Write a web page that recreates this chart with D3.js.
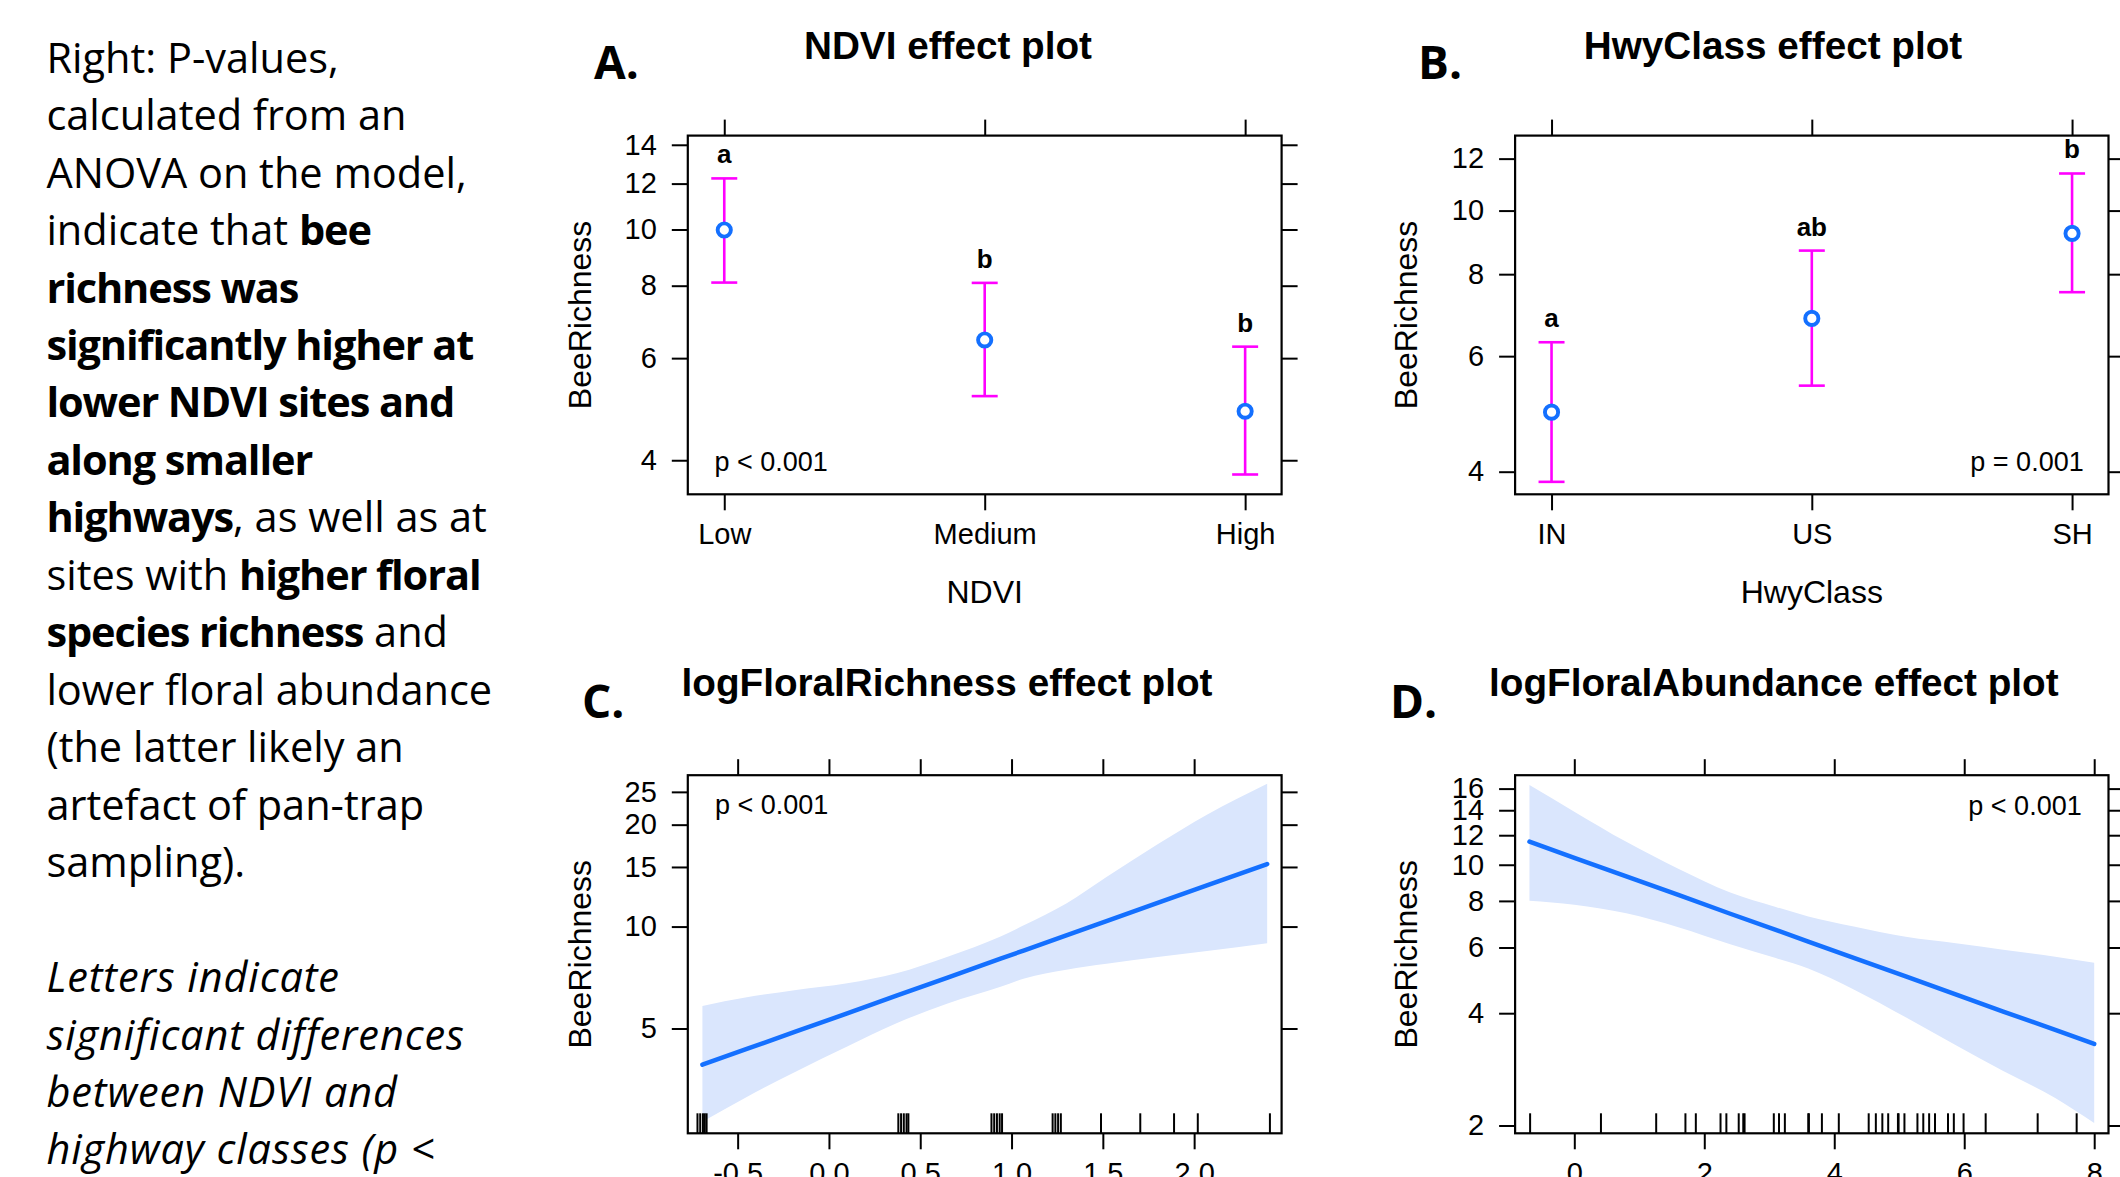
<!DOCTYPE html>
<html>
<head>
<meta charset="utf-8">
<script src="https://cdn.jsdelivr.net/npm/d3@7"></script>
<style>
  html, body { margin: 0; padding: 0; background: #fff; }
  svg { display: block; }
</style>
</head>
<body>
<svg id="fig" width="2120" height="1177"></svg>
<script>
// ---------- NDVI effect (categorical) ----------
const ndviCats    = ["Low", "Medium", "High"];
const ndviFit     = [9.98, 6.45, 4.86];
const ndviLower   = [8.10, 5.16, 3.78];
const ndviUpper   = [12.25, 8.09, 6.28];
const ndviLetters = ["a", "b", "b"];
const ndviYTicks  = [4, 6, 8, 10, 12, 14];

// ---------- Highway class effect (categorical) ----------
const hwyCats    = ["IN", "US", "SH"];
const hwyFit     = [4.93, 6.85, 9.23];
const hwyLower   = [3.86, 5.41, 7.51];
const hwyUpper   = [6.30, 8.69, 11.39];
const hwyLetters = ["a", "ab", "b"];
const hwyYTicks  = [4, 6, 8, 10, 12];

// ---------- log floral richness effect (continuous) ----------
const richX     = [-0.693, -0.45, -0.18, 0.10, 0.37, 0.65, 0.94, 1.07, 1.30, 1.52, 1.80, 2.07, 2.40];
const richFit   = [3.91, 4.35, 4.90, 5.54, 6.25, 7.07, 8.04, 8.51, 9.42, 10.38, 11.74, 13.23, 15.30];
const richLower = [2.65, 3.14, 3.73, 4.42, 5.18, 5.93, 6.64, 7.03, 7.46, 7.76, 8.13, 8.47, 8.93];
const richUpper = [5.83, 6.18, 6.50, 6.80, 7.28, 8.15, 9.34, 10.1, 11.7, 14.0, 17.5, 21.4, 26.4];
const richRug   = [-0.72, -0.705, -0.69, -0.68, -0.67,
                   0.38, 0.395, 0.41, 0.425, 0.435,
                   0.89, 0.905, 0.92, 0.935, 0.948,
                   1.225, 1.24, 1.255, 1.27,
                   1.49, 1.705, 1.89, 2.02, 2.415];
const richYTicks = [5, 10, 15, 20, 25];
const richXTicks = [-0.5, 0, 0.5, 1, 1.5, 2];

// ---------- log floral abundance effect (continuous) ----------
const abX     = [-0.69, 0.0, 0.8, 1.6, 2.4, 3.1, 3.6, 4.3, 5.1, 5.9, 6.6, 7.4, 8.0];
const abFit   = [11.53, 10.44, 9.31, 8.30, 7.39, 6.69, 6.22, 5.63, 5.02, 4.47, 4.04, 3.61, 3.31];
const abLower = [8.01, 7.81, 7.41, 6.80, 6.12, 5.62, 5.27, 4.63, 3.90, 3.26, 2.80, 2.37, 2.03];
const abUpper = [16.36, 13.88, 11.52, 9.76, 8.43, 7.71, 7.27, 6.83, 6.41, 6.15, 5.92, 5.67, 5.46];
const abRug   = [-0.68, 0.41, 1.26, 1.71, 1.87, 2.25, 2.34, 2.53, 2.60, 2.62, 3.07, 3.15, 3.24,
                 3.60, 3.61, 3.81, 4.07, 4.53, 4.64, 4.74, 4.83, 4.98, 4.99, 5.08, 5.28, 5.37,
                 5.46, 5.55, 5.75, 5.84, 5.99, 6.33, 7.13, 7.73];
const abYTicks = [2, 4, 6, 8, 10, 12, 14, 16];
const abXTicks = [0, 2, 4, 6, 8];

// ---------- side note ----------
const noteLines = [
  [["Right: P-values,", "n"]],
  [["calculated from an", "n"]],
  [["ANOVA on the model,", "n"]],
  [["indicate that ", "n"], ["bee", "b"]],
  [["richness was", "b"]],
  [["significantly higher at", "b"]],
  [["lower NDVI sites and", "b"]],
  [["along smaller", "b"]],
  [["highways", "b"], [", as well as at", "n"]],
  [["sites with ", "n"], ["higher floral", "b"]],
  [["species richness", "b"], [" and", "n"]],
  [["lower floral abundance", "n"]],
  [["(the latter likely an", "n"]],
  [["artefact of pan-trap", "n"]],
  [["sampling).", "n"]],
  [],
  [["Letters indicate", "i"]],
  [["significant differences", "i"]],
  [["between NDVI and", "i"]],
  [["highway classes (p <", "i"]]
];

// ---------- drawing ----------
const svg = d3.select("#fig");
svg.append("rect").attr("width", 2120).attr("height", 1177).attr("fill", "#fff");

const PLOT_FONT = "'Liberation Sans', Arial, Helvetica, sans-serif";
const NOTE_FONT = "'Open Sans', 'Noto Sans', sans-serif";
const FIT_BLUE = "#1470ff";
const BAND_BLUE = "#dae6fd";
const BAR_MAGENTA = "#ff00ff";

// note text, one tspan per styled run
const note = svg.append("text")
  .attr("font-family", NOTE_FONT)
  .attr("font-size", 41.5)
  .attr("fill", "#000");
noteLines.forEach((segs, i) => {
  const baseY = 72.7 + i * 57.46;
  segs.forEach((s, j) => {
    const t = note.append("tspan").text(s[0])
      .attr("font-weight", s[1] === "b" ? 700 : 400)
      .attr("font-style", s[1] === "i" ? "italic" : "normal")
      .attr("letter-spacing", s[1] === "b" ? -1.1 : (s[1] === "i" ? 0.9 : 0))
      .style("white-space", "pre");
    if (j === 0) t.attr("x", 46.4).attr("y", baseY);
  });
});

function styleAxis(g, fontSize) {
  g.select(".domain").remove();
  g.selectAll(".tick line").attr("stroke", "#000").attr("stroke-width", 2);
  g.selectAll(".tick text")
    .attr("fill", "#000")
    .attr("font-family", PLOT_FONT)
    .attr("font-size", fontSize);
}

function drawFrame(cfg, x, y, xTicks, xFmt) {
  const g = svg.append("g");
  const b = cfg.box;

  const left = d3.axisLeft(y).tickValues(cfg.yTicks).tickFormat(d3.format("d"))
    .tickSize(16).tickPadding(15).tickSizeOuter(0);
  const right = d3.axisRight(y).tickValues(cfg.yTicks).tickFormat("")
    .tickSize(16).tickSizeOuter(0);
  const bottom = d3.axisBottom(x).tickSize(16).tickPadding(13).tickSizeOuter(0);
  const top = d3.axisTop(x).tickSize(16).tickFormat("").tickSizeOuter(0);
  if (xTicks) { bottom.tickValues(xTicks); top.tickValues(xTicks); }
  if (xFmt) bottom.tickFormat(xFmt);

  g.append("g").attr("transform", `translate(${b.l},0)`).call(left).call(s => styleAxis(s, 29));
  g.append("g").attr("transform", `translate(${b.r},0)`).call(right).call(s => styleAxis(s, 29));
  g.append("g").attr("transform", `translate(0,${b.b})`).call(bottom).call(s => styleAxis(s, 29));
  g.append("g").attr("transform", `translate(0,${b.t})`).call(top).call(s => styleAxis(s, 29));

  // title, panel tag, axis labels
  svg.append("text").attr("x", cfg.titleX).attr("y", cfg.titleY)
    .attr("text-anchor", "middle").attr("font-family", PLOT_FONT)
    .attr("font-weight", 700).attr("font-size", 38.7).text(cfg.title);
  svg.append("text").attr("x", cfg.tagX).attr("y", cfg.tagY)
    .attr("font-family", NOTE_FONT).attr("font-weight", 700)
    .attr("font-size", 46).text(cfg.tag);
  svg.append("text")
    .attr("transform", `translate(${cfg.yLabelX},${(b.t + b.b) / 2}) rotate(-90)`)
    .attr("text-anchor", "middle").attr("font-family", PLOT_FONT)
    .attr("font-size", 32).text("BeeRichness");
  if (cfg.xLabel) {
    svg.append("text").attr("x", (b.l + b.r) / 2).attr("y", cfg.xLabelY)
      .attr("text-anchor", "middle").attr("font-family", PLOT_FONT)
      .attr("font-size", 32).text(cfg.xLabel);
  }
  // p-value annotation
  svg.append("text").attr("x", cfg.pX).attr("y", cfg.pY)
    .attr("text-anchor", cfg.pAnchor).attr("font-family", PLOT_FONT)
    .attr("font-size", 27).text(cfg.pText);
  return g;
}

function drawBox(b) {
  svg.append("rect").attr("x", b.l).attr("y", b.t)
    .attr("width", b.r - b.l).attr("height", b.b - b.t)
    .attr("fill", "none").attr("stroke", "#000").attr("stroke-width", 2.2);
}

function categoricalPanel(cfg, cats, fit, lower, upper, letters) {
  const b = cfg.box;
  const x = d3.scalePoint().domain(cats).range([b.l, b.r]).padding(0.14);
  const y = d3.scaleLog().domain(cfg.yDomain).range([b.b, b.t]);
  drawFrame(cfg, x, y);

  const g = svg.append("g");
  const rows = cats.map((c, i) => ({ c, fit: fit[i], lo: lower[i], hi: upper[i], letter: letters[i] }));
  const capHalf = 13;
  rows.forEach(r => {
    const cx = x(r.c);
    g.append("line").attr("x1", cx).attr("x2", cx).attr("y1", y(r.lo)).attr("y2", y(r.hi))
      .attr("stroke", BAR_MAGENTA).attr("stroke-width", 2.6);
    [r.lo, r.hi].forEach(v => {
      g.append("line").attr("x1", cx - capHalf).attr("x2", cx + capHalf)
        .attr("y1", y(v)).attr("y2", y(v))
        .attr("stroke", BAR_MAGENTA).attr("stroke-width", 2.6);
    });
    g.append("circle").attr("cx", cx).attr("cy", y(r.fit)).attr("r", 6.6)
      .attr("fill", "#fff").attr("stroke", FIT_BLUE).attr("stroke-width", 3.9);
    g.append("text").attr("x", cx).attr("y", y(r.hi) - 15)
      .attr("text-anchor", "middle").attr("font-family", PLOT_FONT)
      .attr("font-weight", 700).attr("font-size", 26).text(r.letter);
  });
  drawBox(b);
}

function continuousPanel(cfg, xs, fit, lower, upper, rug) {
  const b = cfg.box;
  const x = d3.scaleLinear().domain(cfg.xDomain).range([b.l, b.r]);
  const y = d3.scaleLog().domain(cfg.yDomain).range([b.b, b.t]);
  drawFrame(cfg, x, y, cfg.xTicks, d => d.toFixed(cfg.xDigits));

  const rows = xs.map((v, i) => ({ x: v, fit: fit[i], lo: lower[i], hi: upper[i] }));
  const g = svg.append("g");
  g.append("path").datum(rows)
    .attr("d", d3.area().curve(d3.curveMonotoneX)
      .x(d => x(d.x)).y0(d => y(d.lo)).y1(d => y(d.hi)))
    .attr("fill", BAND_BLUE);
  g.append("path").datum(rows)
    .attr("d", d3.line().x(d => x(d.x)).y(d => y(d.fit)))
    .attr("fill", "none").attr("stroke", FIT_BLUE).attr("stroke-width", 4.5)
    .attr("stroke-linecap", "round");
  g.selectAll("line.rug").data(rug).join("line").attr("class", "rug")
    .attr("x1", d => x(d)).attr("x2", d => x(d))
    .attr("y1", b.b).attr("y2", b.b - 20)
    .attr("stroke", "#000").attr("stroke-width", 2);
  drawBox(b);
}

categoricalPanel({
  box: { l: 687.8, t: 135.6, r: 1281.6, b: 494.3 },
  yDomain: [3.494, 14.52], yTicks: ndviYTicks,
  title: "NDVI effect plot", titleX: 948, titleY: 58.5,
  tag: "A.", tagX: 594, tagY: 79,
  yLabelX: 591, xLabel: "NDVI", xLabelY: 603,
  pText: "p < 0.001", pX: 714.5, pY: 470.5, pAnchor: "start"
}, ndviCats, ndviFit, ndviLower, ndviUpper, ndviLetters);

categoricalPanel({
  box: { l: 1515.1, t: 135.6, r: 2108.5, b: 494.3 },
  yDomain: [3.695, 13.01], yTicks: hwyYTicks,
  title: "HwyClass effect plot", titleX: 1773, titleY: 58.5,
  tag: "B.", tagX: 1418, tagY: 79,
  yLabelX: 1417, xLabel: "HwyClass", xLabelY: 603,
  pText: "p = 0.001", pX: 2083.7, pY: 470.5, pAnchor: "end"
}, hwyCats, hwyFit, hwyLower, hwyUpper, hwyLetters);

continuousPanel({
  box: { l: 687.8, t: 775.2, r: 1281.6, b: 1133.3 },
  xDomain: [-0.773, 2.479], yDomain: [2.451, 28.0],
  xTicks: richXTicks, xDigits: 1, yTicks: richYTicks,
  title: "logFloralRichness effect plot", titleX: 947, titleY: 696.4,
  tag: "C.", tagX: 582, tagY: 717.7,
  yLabelX: 591,
  pText: "p < 0.001", pX: 715, pY: 814.3, pAnchor: "start"
}, richX, richFit, richLower, richUpper, richRug);

continuousPanel({
  box: { l: 1515.1, t: 775.2, r: 2108.5, b: 1133.3 },
  xDomain: [-0.911, 8.22], yDomain: [1.906, 17.38],
  xTicks: abXTicks, xDigits: 0, yTicks: abYTicks,
  title: "logFloralAbundance effect plot", titleX: 1773.8, titleY: 696.4,
  tag: "D.", tagX: 1390, tagY: 717.7,
  yLabelX: 1417,
  pText: "p < 0.001", pX: 2081.7, pY: 815, pAnchor: "end"
}, abX, abFit, abLower, abUpper, abRug);
</script>
</body>
</html>
